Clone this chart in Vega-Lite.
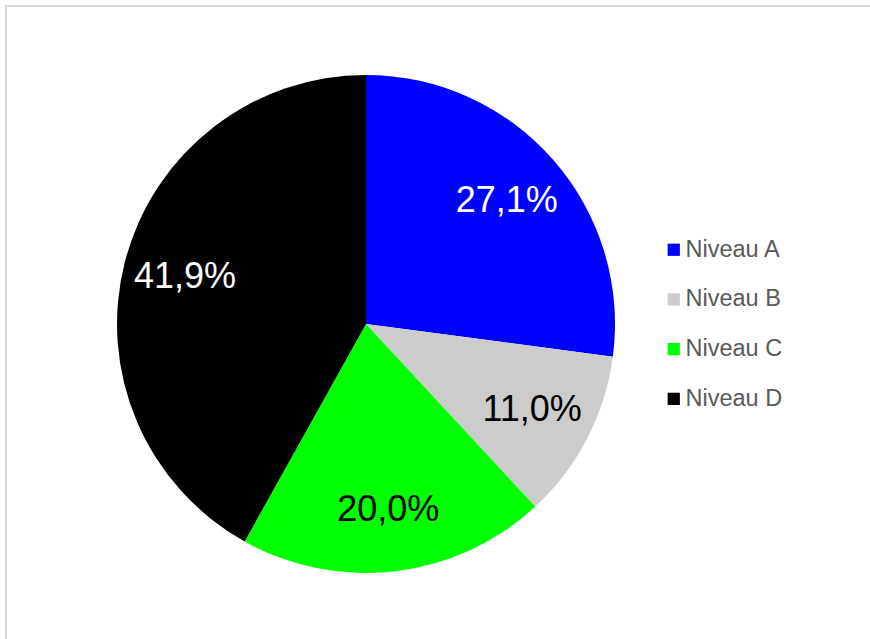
{
  "$schema": "https://vega.github.io/schema/vega-lite/v6.json",
  "width": 866,
  "height": 636,
  "autosize": {"type": "none"},
  "padding": {"left": 6, "top": 6, "right": -2, "bottom": -3},
  "background": "white",
  "config": {
    "view": {"stroke": "#d9d9d9", "strokeWidth": 2},
    "font": "Liberation Sans"
  },
  "data": {
    "values": [
      {"niveau": "Niveau A", "pct": 27.1, "label": "27,1%", "ordre": 1},
      {"niveau": "Niveau B", "pct": 11.0, "label": "11,0%", "ordre": 2},
      {"niveau": "Niveau C", "pct": 20.0, "label": "20,0%", "ordre": 3},
      {"niveau": "Niveau D", "pct": 41.9, "label": "41,9%", "ordre": 4}
    ]
  },
  "encoding": {
    "theta": {"field": "pct", "type": "quantitative", "stack": true},
    "order": {"field": "ordre", "type": "quantitative"},
    "x": {"value": 360},
    "y": {"value": 318}
  },
  "layer": [
    {
      "mark": {"type": "arc", "outerRadius": 249},
      "encoding": {
        "color": {
          "field": "niveau",
          "type": "nominal",
          "scale": {
            "domain": ["Niveau A", "Niveau B", "Niveau C", "Niveau D"],
            "range": ["#0000ff", "#cccccc", "#00ff00", "#000000"]
          },
          "legend": {
            "title": null,
            "orient": "none",
            "legendX": 656,
            "legendY": 232,
            "padding": 0,
            "symbolType": "square",
            "symbolSize": 150,
            "symbolStrokeWidth": 0,
            "labelFontSize": 23.5,
            "labelColor": "#595959",
            "labelOffset": 0,
            "rowPadding": 24.7,
            "labelFont": "Liberation Sans"
          }
        }
      }
    },
    {
      "mark": {"type": "text", "radius": 187, "fontSize": 36, "align": "center", "baseline": "middle"},
      "encoding": {
        "text": {"field": "label", "type": "nominal"},
        "color": {
          "condition": {"test": "datum.niveau === 'Niveau A' || datum.niveau === 'Niveau D'", "value": "#ffffff"},
          "value": "#000000"
        }
      }
    }
  ]
}
